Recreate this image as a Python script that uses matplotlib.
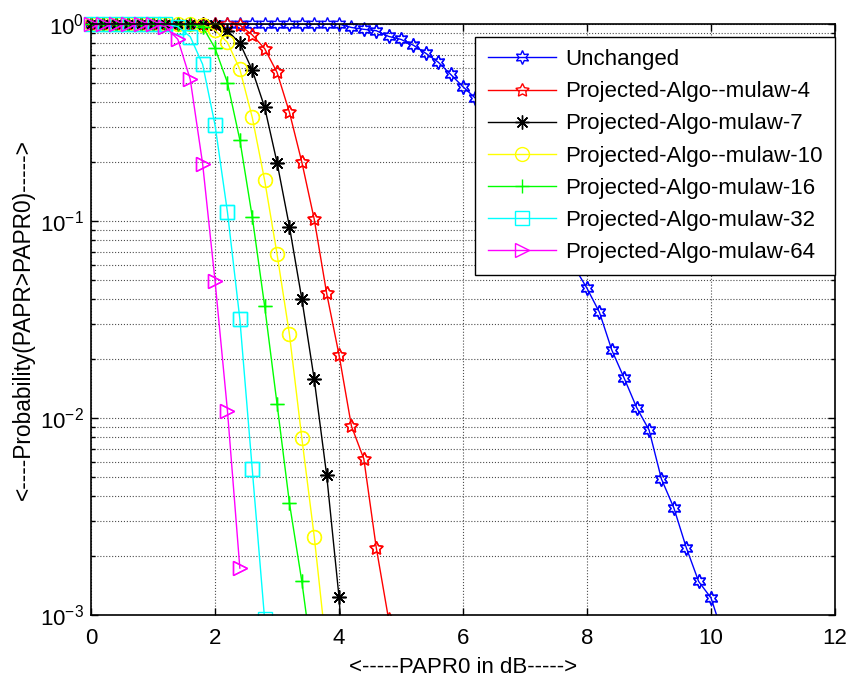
#!/usr/bin/env python3

import numpy as np
import matplotlib
matplotlib.use("Agg")
import matplotlib.pyplot as plt

plt.rcParams["font.family"] = ["Liberation Sans", "DejaVu Sans"]
plt.rcParams["mathtext.fontset"] = "custom"
plt.rcParams["mathtext.rm"] = "Liberation Sans"
plt.rcParams["mathtext.default"] = "regular"

# PAPR0 grid in dB (0:0.2:12), probabilities
STEP = 0.2

unchanged = [1.0] * 21 + [
    0.96, 0.94, 0.925, 0.865, 0.835, 0.78, 0.71, 0.64, 0.555, 0.48,
    0.42, 0.35, 0.29, 0.235, 0.185, 0.145, 0.11, 0.08, 0.058, 0.0455,
    0.0344, 0.0221, 0.0159, 0.0113, 0.0087, 0.0049, 0.0035, 0.0022,
    0.00148, 0.00122, 0.00078,
]
mulaw4 = [1.0] * 12 + [
    0.988, 0.88, 0.75, 0.568, 0.356, 0.199, 0.102, 0.043, 0.0209,
    0.0091, 0.0062, 0.0022, 0.00095,
]
mulaw7 = [1.0] * 10 + [
    0.985, 0.925, 0.80, 0.584, 0.378, 0.198, 0.0936, 0.0402, 0.0157,
    0.00514, 0.00123, 0.00015,
]
mulaw10 = [1.0] * 9 + [
    0.99, 0.93, 0.807, 0.589, 0.336, 0.161, 0.068, 0.0266, 0.0079,
    0.0025, 0.00065,
]
mulaw16 = [1.0] * 9 + [
    0.97, 0.753, 0.504, 0.258, 0.105, 0.037, 0.0118, 0.0037, 0.00148,
    0.0005,
]
mulaw32 = [1.0] * 7 + [
    0.97, 0.862, 0.624, 0.307, 0.111, 0.0318, 0.0055, 0.00095,
]
mulaw64 = [1.0] * 6 + [
    0.97, 0.836, 0.524, 0.195, 0.0496, 0.0109, 0.00173,
]

series = [
    ("Unchanged", unchanged, (0, 0, 1), (6, 1, 0)),
    ("Projected-Algo--mulaw-4", mulaw4, (1, 0, 0), (5, 1, 0)),
    ("Projected-Algo-mulaw-7", mulaw7, (0, 0, 0), (8, 2, 0)),
    ("Projected-Algo--mulaw-10", mulaw10, (1, 1, 0), "o"),
    ("Projected-Algo-mulaw-16", mulaw16, (0, 1, 0), "+"),
    ("Projected-Algo-mulaw-32", mulaw32, (0, 1, 1), "s"),
    ("Projected-Algo-mulaw-64", mulaw64, (1, 0, 1), ">"),
]


def main():
    fig = plt.figure(figsize=(8.54, 6.78), dpi=100)
    ax = fig.add_axes([0.1066, 0.0929, 0.8712, 0.8717])
    ax.set_yscale("log")

    for label, vals, col, mk in series:
        y = np.array(vals)
        x = np.arange(len(y)) * STEP
        ax.plot(x, y, color=col, lw=1.0, marker=mk, ms=10, mfc="none",
                mec=col, mew=1.0, label=label)
        inside = y >= 1e-3
        ax.plot(x[inside], y[inside], color=col, ls="none", marker=mk,
                ms=10, mfc="none", mec=col, mew=1.0, clip_on=False)

    ax.set_xlim(0, 12)
    ax.set_ylim(1e-3, 1)
    ax.set_xticks([0, 2, 4, 6, 8, 10, 12])
    ax.grid(True, which="major", ls=":", color="0.3", lw=0.8)
    ax.grid(True, which="minor", axis="y", ls=":", color="0.3", lw=0.8)
    ax.tick_params(axis="both", which="both", direction="in", top=True,
                   right=True, labelsize=16, width=1.0)
    ax.tick_params(which="major", length=5)
    ax.tick_params(which="minor", length=3)
    ax.tick_params(axis="x", pad=9)
    ax.tick_params(axis="y", pad=5)
    for sp in ax.spines.values():
        sp.set_linewidth(1.2)

    ax.set_xlabel("<-----PAPR0 in dB----->", fontsize=16, labelpad=6)
    ax.set_ylabel("<----Probability(PAPR>PAPR0)----->", fontsize=16.4,
                  labelpad=4)

    leg = ax.legend(loc="upper right", bbox_to_anchor=(1.0, 0.978),
                    fontsize=16, numpoints=1, handlelength=3.1,
                    fancybox=False, framealpha=1, edgecolor="k",
                    borderpad=0.55, labelspacing=0.5, handletextpad=0.4,
                    borderaxespad=0.0)
    leg.get_frame().set_linewidth(1.0)

    fig.savefig("out.png", dpi=100)
    plt.close(fig)


if __name__ == "__main__":
    main()
